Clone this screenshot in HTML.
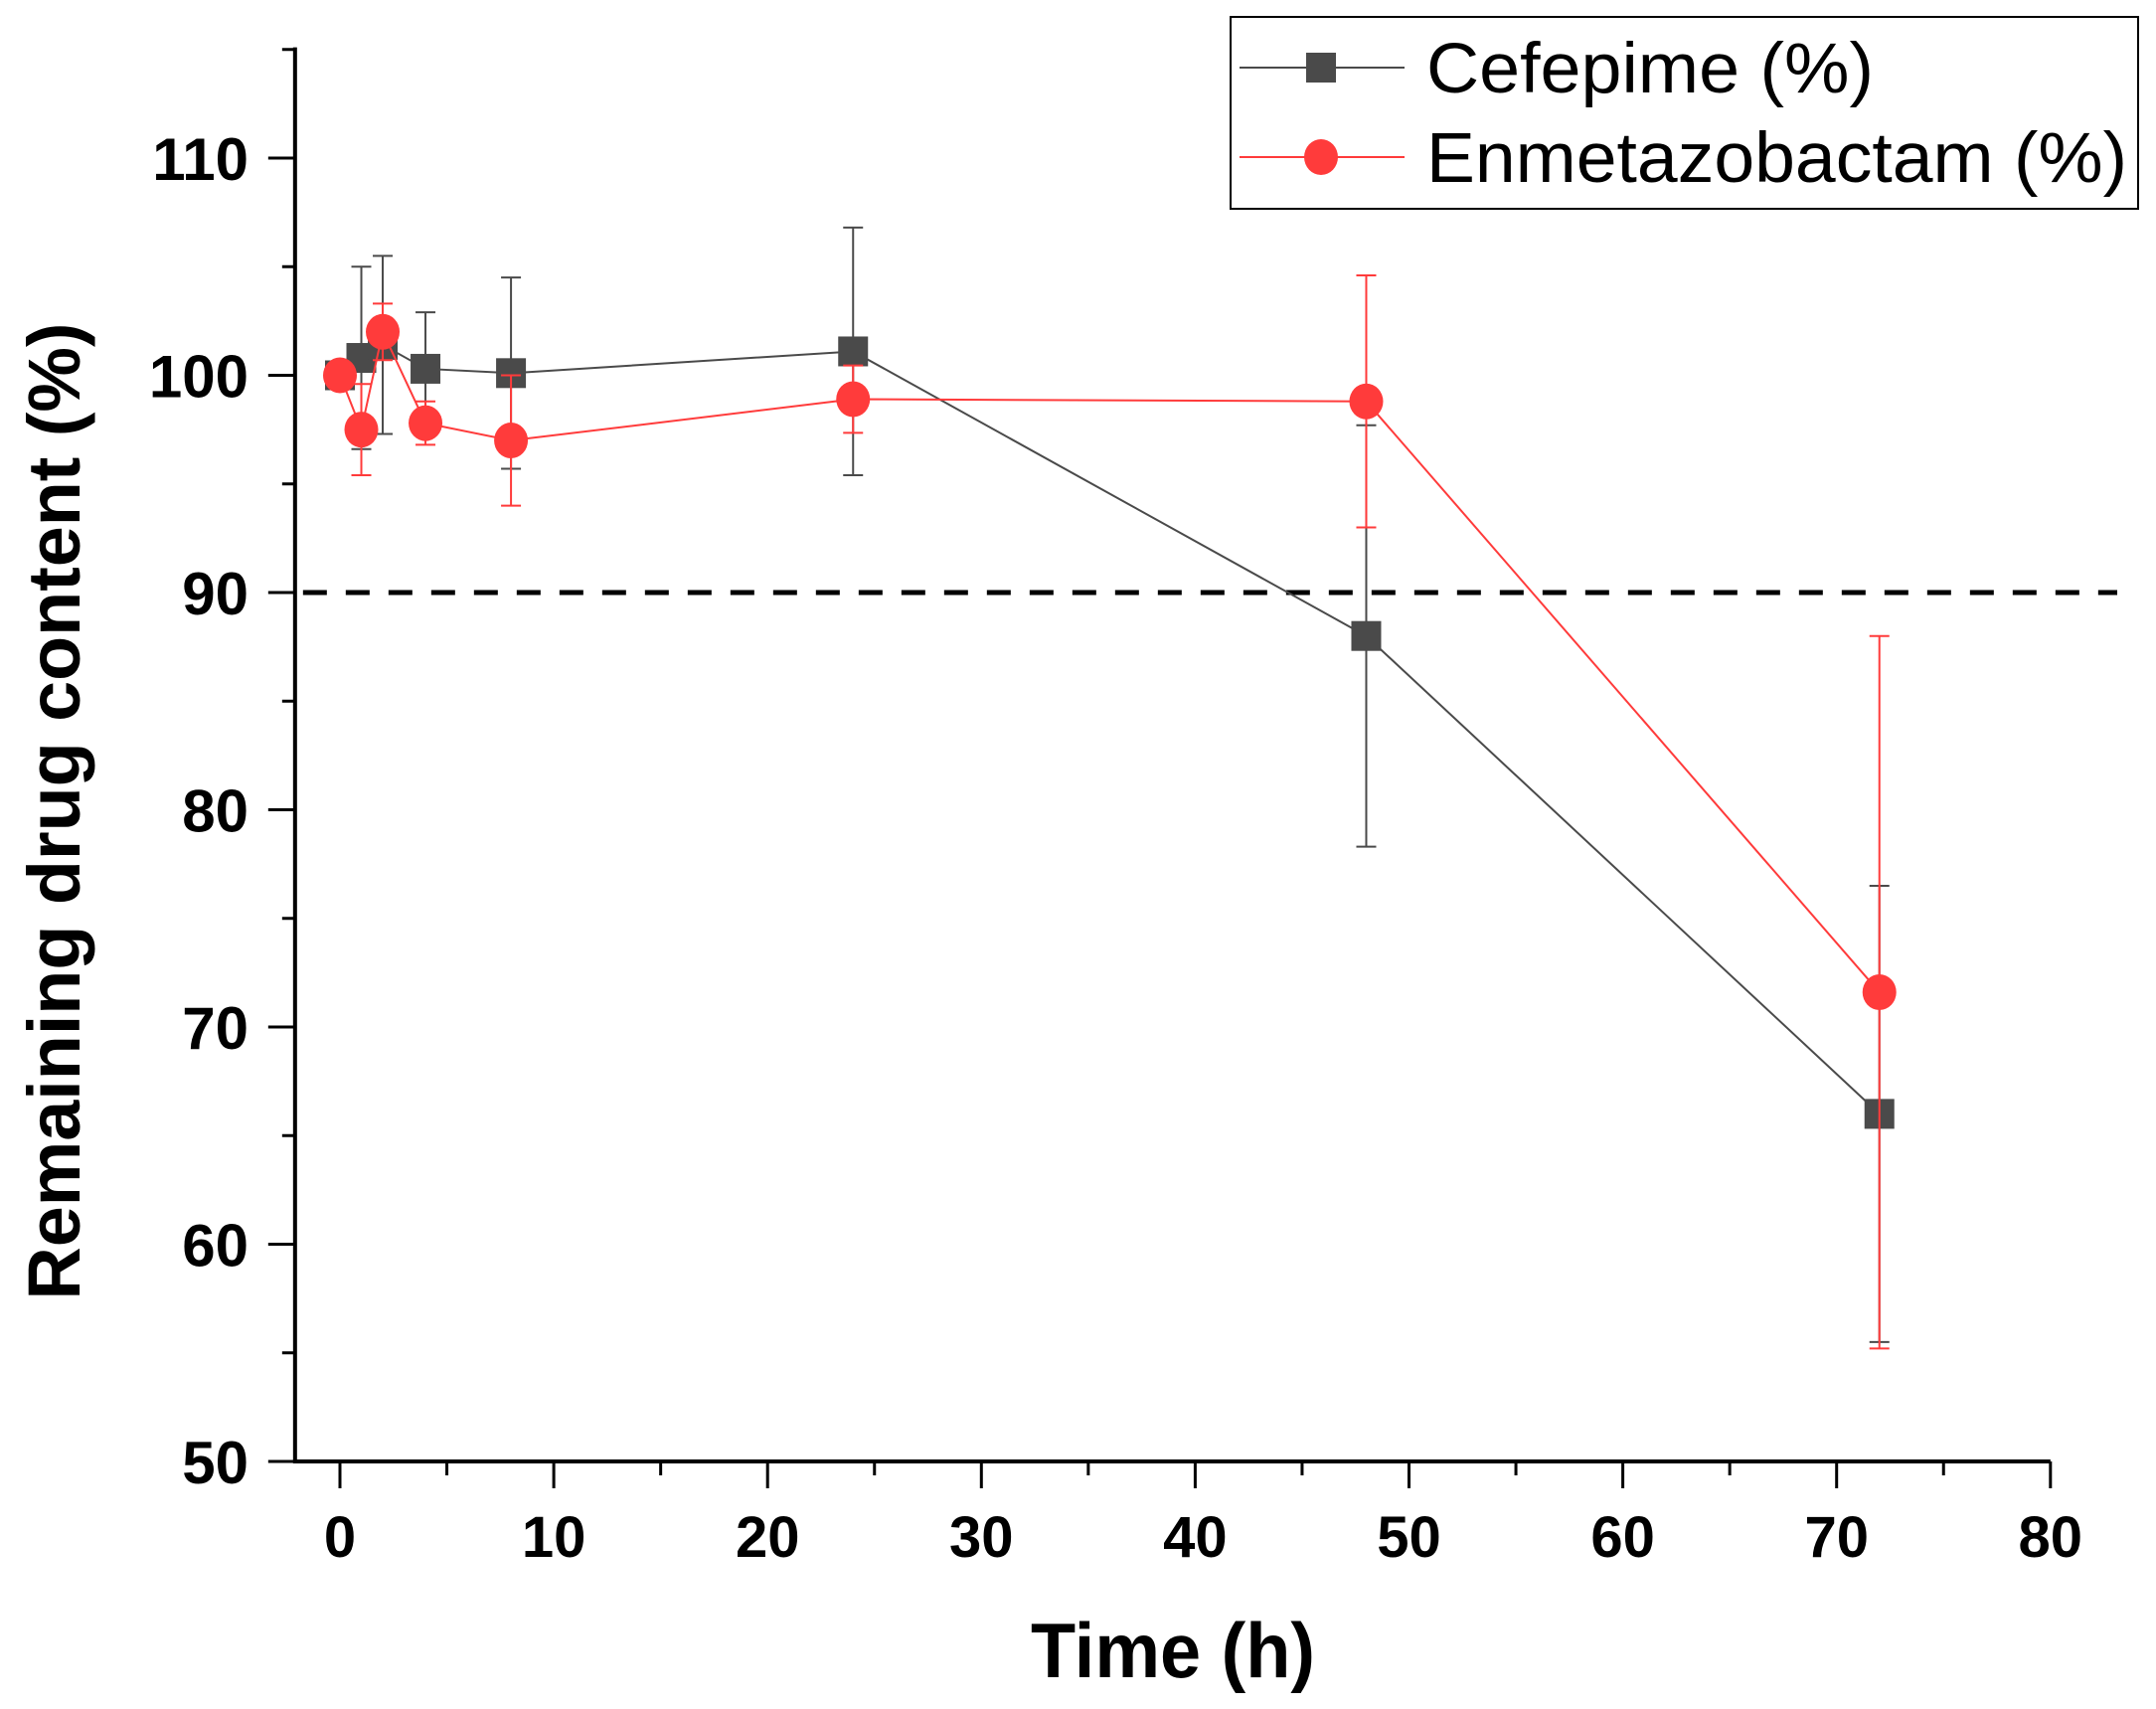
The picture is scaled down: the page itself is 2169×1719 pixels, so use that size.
<!DOCTYPE html>
<html><head><meta charset="utf-8"><style>
html,body{margin:0;padding:0;background:#fff}
svg{display:block;font-family:"Liberation Sans",Arial,sans-serif}
</style></head><body>
<svg id="chart" width="2169" height="1719" viewBox="0 0 2169 1719" xmlns="http://www.w3.org/2000/svg">
<g id="axes"></g>
<g id="plot"></g>
<g id="legend">
  <rect x="1238" y="17" width="913" height="193" fill="#fff" stroke="#000" stroke-width="2"/>
  <line x1="1247" y1="68" x2="1413" y2="68" stroke="#4a4a4a" stroke-width="2"/>
  <rect x="1314" y="53" width="30" height="30" fill="#4a4a4a"/>
  <text x="1435" y="93" font-size="71" textLength="450" lengthAdjust="spacingAndGlyphs">Cefepime (%)</text>
  <line x1="1247" y1="158" x2="1413" y2="158" stroke="#ff3b3b" stroke-width="2"/>
  <ellipse cx="1329" cy="158" rx="17" ry="18" fill="#ff3b3b"/>
  <text x="1435" y="183" font-size="71" textLength="705" lengthAdjust="spacingAndGlyphs">Enmetazobactam (%)</text>
</g>
</svg>
<script>
const times = [0, 1, 2, 4, 8, 24, 48, 72];
const cefepime = [100, 100.8, 101.4, 100.3, 100.1, 101.1, 88.0, 66.0];
const cefepimeErr = [0.4, 4.2, 4.1, 2.6, 4.4, 5.7, 9.7, 10.5];
const enmeta = [100, 97.5, 102.0, 97.8, 97.0, 98.9, 98.8, 71.6];
const enmetaErr = [0.3, 2.1, 1.3, 1.0, 3.0, 1.55, 5.8, 16.4];
const xTicks = [0, 10, 20, 30, 40, 50, 60, 70, 80];
const yTicks = [50, 60, 70, 80, 90, 100, 110];
const threshold = [90];

const NS = "http://www.w3.org/2000/svg";
const X0 = 342, XS = 21.51, Y0 = 1470, YS = 21.85;
function xs(v){ return X0 + v*XS; }
function ys(v){ return Y0 - (v-50)*YS; }
function mk(tag, attrs, parent){
  const e = document.createElementNS(NS, tag);
  for (const k in attrs) e.setAttribute(k, attrs[k]);
  parent.appendChild(e); return e;
}
const axes = document.getElementById('axes');
const plot = document.getElementById('plot');
const xMin = -2.1, xMax = 80, yMax = 115.1;

let e = mk('line', {x1: xs(xMin), y1: ys(50), x2: xs(xMax), y2: ys(50), stroke:'#000','stroke-width':4}, axes);


e = mk('line', {x1: xs(xMin), y1: ys(50)+2, x2: xs(xMin), y2: ys(yMax), stroke:'#000','stroke-width':4}, axes);



for (let v = 0; v <= 80; v += 5) {
  const major = v % 10 === 0;
  e = mk('line', {x1: xs(v), y1: ys(50), x2: xs(v), y2: ys(50) + (major ? 27 : 14), stroke:'#000','stroke-width':3}, axes);
  
  
}
xTicks.forEach(v => {
  e = mk('text', {x: xs(v), y: 1566, 'font-size': 58, 'font-weight':'bold', 'text-anchor':'middle'}, axes);
  e.textContent = v;
  
  
});
for (let v = 50; v <= 115; v += 5) {
  const major = v % 10 === 0;
  e = mk('line', {x1: xs(xMin), y1: ys(v), x2: xs(xMin) - (major ? 27 : 13), y2: ys(v), stroke:'#000','stroke-width':3}, axes);
  
  
}
yTicks.forEach(v => {
  e = mk('text', {x: 250, y: ys(v) + 22, 'font-size': 60, 'font-weight':'bold', 'text-anchor':'end'}, axes);
  e.textContent = v;
  
  
});
e = mk('text', {x: 1180, y: 1687, 'font-size': 78, 'font-weight':'bold', 'text-anchor':'middle', textLength: 286, lengthAdjust: 'spacingAndGlyphs'}, axes);
e.textContent = 'Time (h)';


e = mk('text', {x: 0, y: 0, 'font-size': 74, 'font-weight':'bold', 'text-anchor':'middle', textLength: 983, lengthAdjust: 'spacingAndGlyphs', transform: 'translate(80,816) rotate(-90)'}, axes);
e.textContent = 'Remaining drug content (%)';



e = mk('line', {x1: xs(xMin)+8, y1: ys(threshold[0]), x2: 2130, y2: ys(threshold[0]), stroke:'#000','stroke-width':5,'stroke-dasharray':'24 19'}, plot);



function series(vals, errs, color, name, square){
  const g = mk('g', {}, plot);
  
  
  const pts = times.map((t,i) => xs(t) + ',' + ys(vals[i])).join(' ');
  let l = mk('polyline', {points: pts, fill:'none', stroke: color, 'stroke-width': 2}, g);
  
  
  times.forEach((t,i) => {
    const x = xs(t), yt = ys(vals[i]+errs[i]), yb = ys(vals[i]-errs[i]);
    const eb = mk('path', {d: `M${x},${yt}V${yb}M${x-10},${yt}H${x+10}M${x-10},${yb}H${x+10}`, stroke: color, 'stroke-width':2, fill:'none'}, g);
    
    
  });
  times.forEach((t,i) => {
    const x = xs(t), y = ys(vals[i]);
    let m;
    if (square) m = mk('rect', {x: x-15, y: y-15, width: 30, height: 30, fill: color}, g);
    else m = mk('ellipse', {cx: x, cy: y, rx: 17, ry: 18, fill: color}, g);
    
    
  });
}
series(cefepime, cefepimeErr, '#4a4a4a', 'cefepime', true);
series(enmeta, enmetaErr, '#ff3b3b', 'enmetazobactam', false);
</script>
</body></html>
